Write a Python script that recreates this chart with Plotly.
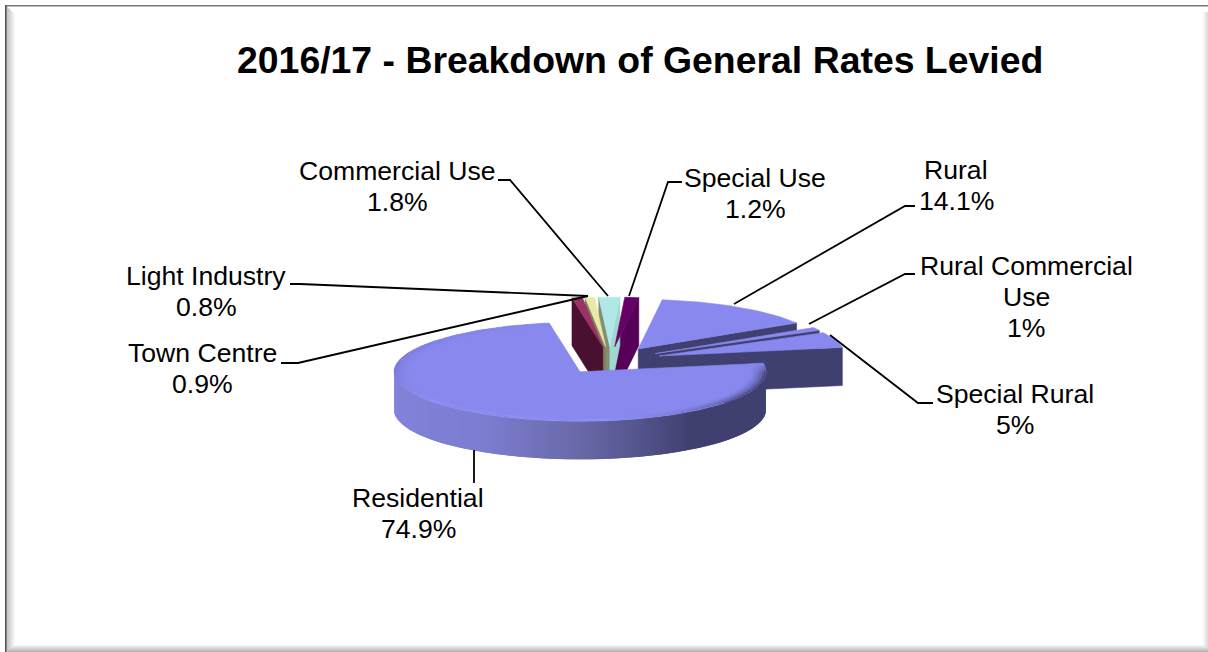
import math
import plotly.graph_objects as go

# Rate categories in pie order, clockwise from the first-slice angle
categories = ["Residential", "Town Centre", "Light Industry", "Commercial Use",
              "Special Use", "Rural", "Rural Commercial<br>Use", "Special Rural"]
shares = [74.9, 0.9, 0.8, 1.8, 1.2, 14.1, 1, 5]
title_text = "2016/17 - Breakdown of General Rates Levied"

top_colors = ["#8888EE", "#993366", "#E8E8A8", "#B0E8E8", "#660066", "#8888EE", "#8888EE", "#8888EE"]
left_wall_colors = ["#404070", "#4A1030", "#857F5C", "#7F8F70", "#560058", "#404070", "#404070", "#404070"]
right_wall_colors = ["#404070", "#4A1030", "#857F5C", "#A0D8D0", "#560058", "#404070", "#404070", "#404070"]

# Pie projection, in pixels of the page
W, H = 1208, 652
CX, CY = 610.0, 360.5
RX, RY = 186.0, 49.5
DEPTH = 38.0
FAR_EXTRA = 10.0
EXPLODE = 52.0
FIRST_ANGLE = 80.0
LINE_GAP = 31

# Outer wall shade and rim shade, keyed by angle clockwise from the top
wall_stops = [(90, "#404070"), (144, "#404070"), (158, "#505088"), (180, "#6868A8"),
              (209, "#7C7CD0"), (270, "#8484DE")]
rim_stops = [(80, "#8888EE"), (92, "#46467A"), (120, "#4A4A80"), (135, "#5A5A9C"), (150, "#7C7CD4"),
             (175, "#9C9CFA"), (230, "#9494F6"), (270, "#7A7AD6"), (320, "#8282E2"), (351, "#8888EE")]


def hex_rgb(c):
    return tuple(int(c[i:i + 2], 16) for i in (1, 3, 5))


def mix(a, b, t):
    ra, rb = hex_rgb(a), hex_rgb(b)
    return "#%02X%02X%02X" % tuple(round(x + (y - x) * t) for x, y in zip(ra, rb))


def shade(stops, ang):
    if ang <= stops[0][0]:
        return stops[0][1]
    for (a0, c0), (a1, c1) in zip(stops, stops[1:]):
        if ang <= a1:
            return mix(c0, c1, (ang - a0) / (a1 - a0))
    return stops[-1][1]


def rim_point(ax, ay, deg, r=1.0):
    t = math.radians(deg)
    return ax + RX * r * math.sin(t), ay - RY * r * math.cos(t)


fig = go.Figure()


def poly(points, color, edge=0.6):
    xs = [p[0] for p in points] + [points[0][0]]
    ys = [p[1] for p in points] + [points[0][1]]
    fig.add_trace(go.Scatter(x=xs, y=ys, mode="lines", fill="toself", fillcolor=color,
                             line=dict(color=color, width=edge), hoverinfo="skip", showlegend=False))


def sweep(a, b, step=1.0):
    n = max(2, int(abs(b - a) / step) + 1)
    return [a + (b - a) * i / (n - 1) for i in range(n)]


def apex_of(start, end):
    mid = math.radians((start + end) / 2)
    return CX + EXPLODE * math.sin(mid), CY - EXPLODE * RY / RX * math.cos(mid), mid


def draw_walls(idx, start, end):
    ax, ay, mid = apex_of(start, end)
    depth = DEPTH + FAR_EXTRA * max(0.0, math.cos(mid)) ** 4

    # Cut faces that turn towards the viewer
    if math.sin(math.radians(start)) < 0:
        o = rim_point(ax, ay, start)
        poly([(ax, ay), o, (o[0], o[1] + depth), (ax, ay + depth)], left_wall_colors[idx])
    if math.sin(math.radians(end)) > 0:
        o = rim_point(ax, ay, end)
        poly([(ax, ay), o, (o[0], o[1] + depth), (ax, ay + depth)], right_wall_colors[idx])

    # Curved outer wall on the near half of the pie; each strip runs under the next one
    lo, hi = max(start, 90.0), min(end, 270.0)
    if hi > lo:
        angles = sweep(lo, hi, 1.5)
        for a0, a1 in zip(reversed(angles[:-1]), reversed(angles[1:])):
            p0 = rim_point(ax, ay, max(lo, a0 - 1.5))
            p1 = rim_point(ax, ay, a1)
            poly([p0, p1, (p1[0], p1[1] + depth), (p0[0], p0[1] + depth)],
                 shade(wall_stops, (a0 + a1) / 2), edge=0)


def draw_top(idx, start, end):
    ax, ay, _ = apex_of(start, end)
    poly([(ax, ay)] + [rim_point(ax, ay, a) for a in sweep(start, end)], top_colors[idx])

    # Rounded edge on the large slice
    if end - start > 180:
        bands = [0.92, 0.935, 0.95, 0.965, 0.98, 0.99, 1.0]
        angles = sweep(start, end, 2.5)
        for j, (r0, r1) in enumerate(zip(bands, bands[1:])):
            weight = ((j + 1) / (len(bands) - 1)) ** 1.5
            for a0, a1 in zip(angles, angles[1:]):
                color = mix(top_colors[idx], shade(rim_stops, (a0 + a1) / 2), weight)
                a2 = min(end, a1 + 1.0)
                poly([rim_point(ax, ay, a0, r0), rim_point(ax, ay, a2, r0),
                      rim_point(ax, ay, a2, r1), rim_point(ax, ay, a0, r1)], color, edge=0)


total = sum(shares)
bounds = []
angle = FIRST_ANGLE
for v in shares:
    bounds.append((angle, angle + 360.0 * v / total))
    angle = bounds[-1][1]

# The small far slices sit close together: their walls go down first, then their tops
for i in [4, 3, 2, 1]:
    draw_walls(i, *bounds[i])
for i in [1, 2, 3, 4]:
    draw_top(i, *bounds[i])
# Then the remaining slices, far to near, the large slice last
for i in [5, 6, 7, 0]:
    draw_walls(i, *bounds[i])
    draw_top(i, *bounds[i])

# Leader lines and labels, in the same order as the categories
leaders = [
    [(474, 483), (474, 450)],
    [(281, 363), (298, 363), (588, 296)],
    [(290, 284), (300, 284), (588, 296)],
    [(498, 180), (510, 180), (608, 296)],
    [(682, 182), (668, 182), (629, 296)],
    [(915, 206), (905, 206), (734, 304)],
    [(915, 274), (905, 274), (809, 324)],
    [(933, 403), (918, 403), (830, 335)],
]
label_anchors = [(418, 498), (202, 353), (206, 276), (397, 171),
                 (755, 178), (956, 170), (1026, 266), (1015, 394)]

for path in leaders:
    fig.add_trace(go.Scatter(x=[p[0] for p in path], y=[p[1] for p in path], mode="lines",
                             line=dict(color="black", width=1.8), hoverinfo="skip", showlegend=False))

# Each text line is its own annotation so the leading stays tight
annotations = []
for name, v, (x, y) in zip(categories, shares, label_anchors):
    for k, line in enumerate(name.split("<br>") + [f"{v:g}%"]):
        annotations.append(dict(x=x, y=y + k * LINE_GAP, text=line, showarrow=False,
                                xanchor="center", yanchor="middle",
                                font=dict(family="Liberation Sans, Arial", size=26.6, color="black")))
annotations.append(dict(x=640, y=60, text=f"<b>{title_text}</b>", showarrow=False,
                        xanchor="center", yanchor="middle",
                        font=dict(family="Liberation Sans, Arial", size=37.4, color="black")))

# Chart frame: hairline on top and left, soft inner shadows along the edges
shapes = []
for k in range(10):
    c = mix("#B8B8B8", "#FFFFFF", (k + 1) / 10)
    shapes.append(dict(type="rect", x0=6 + k, x1=7 + k, y0=6 + k, y1=652 - k, line_width=0, fillcolor=c, layer="below"))
for k in range(7):
    c = mix("#FFFFFF", "#B4B4B4", (k + 1) / 7)
    shapes.append(dict(type="rect", x0=13 - k, x1=W, y0=645 + k, y1=646 + k, line_width=0, fillcolor=c, layer="below"))
for k in range(5):
    c = mix("#FFFFFF", "#DCDCDC", (k + 1) / 5)
    shapes.append(dict(type="rect", x0=1203 + k, x1=1204 + k, y0=12, y1=645 + k, line_width=0, fillcolor=c, layer="below"))
shapes.append(dict(type="rect", x0=5, x1=W, y0=5, y1=6.5, line_width=0, fillcolor="#787878", layer="below"))
shapes.append(dict(type="rect", x0=5, x1=6.5, y0=5, y1=652, line_width=0, fillcolor="#505050", layer="below"))

fig.update_layout(
    width=W, height=H, margin=dict(l=0, r=0, t=0, b=0),
    paper_bgcolor="white", plot_bgcolor="white", showlegend=False,
    xaxis=dict(range=[0, W], visible=False, fixedrange=True),
    yaxis=dict(range=[H, 0], visible=False, fixedrange=True),
    annotations=annotations, shapes=shapes,
)
fig.write_html("out.html", config=dict(displayModeBar=False))
